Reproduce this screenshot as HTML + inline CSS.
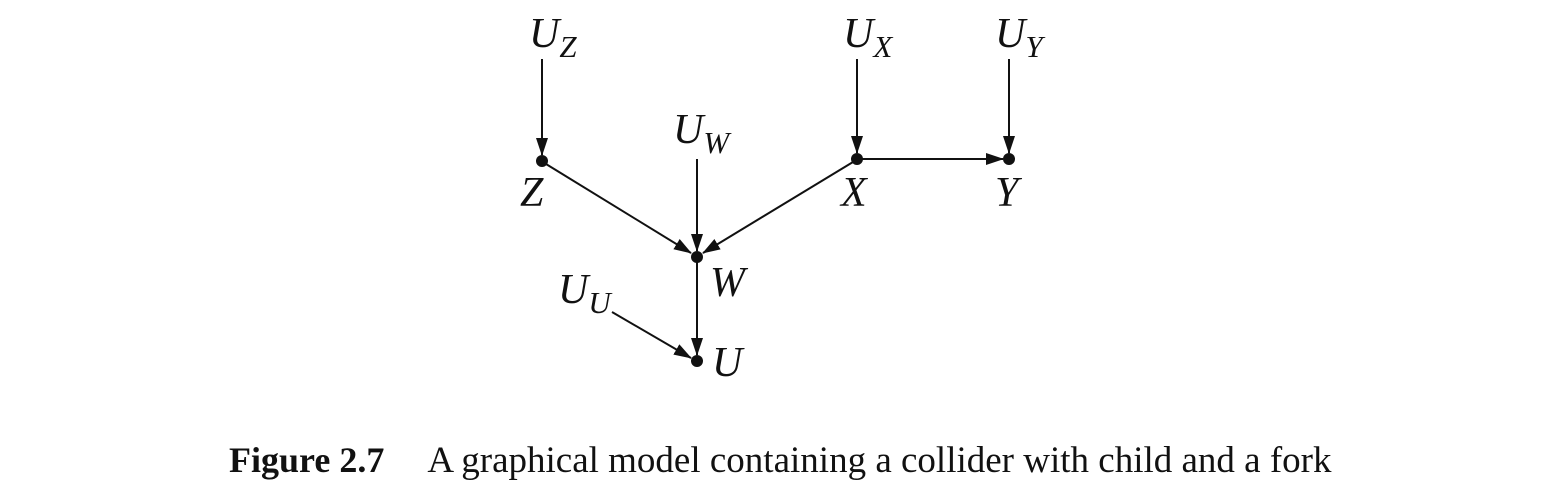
<!DOCTYPE html>
<html><head><meta charset="utf-8"><style>
html,body{margin:0;padding:0;background:#fff;}
svg{display:block;}
text{font-family:"Liberation Serif",serif;fill:#111;}
.lbl{font-style:italic;font-size:42px;}
.sub{font-style:italic;font-size:31px;}
</style></head><body>
<svg width="1565" height="486" viewBox="0 0 1565 486">
<defs><marker id="ah" markerWidth="18" markerHeight="12" refX="17" refY="6" orient="auto" markerUnits="userSpaceOnUse"><path d="M0,0 L18,6 L0,12 Z" fill="#111"/></marker></defs>
<g stroke="#111" stroke-width="2" fill="none">
<line x1="542" y1="59" x2="542" y2="155" marker-end="url(#ah)"/>
<line x1="697" y1="159" x2="697" y2="251" marker-end="url(#ah)"/>
<line x1="857" y1="59" x2="857" y2="153" marker-end="url(#ah)"/>
<line x1="1009" y1="59" x2="1009" y2="153" marker-end="url(#ah)"/>
<line x1="860" y1="159" x2="1003" y2="159" marker-end="url(#ah)"/>
<line x1="546" y1="164" x2="691" y2="253" marker-end="url(#ah)"/>
<line x1="853" y1="162" x2="703" y2="253" marker-end="url(#ah)"/>
<line x1="697" y1="262" x2="697" y2="355" marker-end="url(#ah)"/>
<line x1="612" y1="312" x2="691" y2="358" marker-end="url(#ah)"/>
</g>
<g fill="#111">
<circle cx="542" cy="161" r="6"/>
<circle cx="697" cy="257" r="6"/>
<circle cx="857" cy="159" r="6"/>
<circle cx="1009" cy="159" r="6"/>
<circle cx="697" cy="361" r="6"/>
</g>
<text class="lbl" x="529" y="47">U<tspan class="sub" dy="10">Z</tspan></text>
<text class="lbl" x="520" y="206">Z</text>
<text class="lbl" x="673" y="143">U<tspan class="sub" dy="10">W</tspan></text>
<text class="lbl" x="710" y="296">W</text>
<text class="lbl" x="843" y="47">U<tspan class="sub" dy="10">X</tspan></text>
<text class="lbl" x="841" y="206">X</text>
<text class="lbl" x="995" y="47">U<tspan class="sub" dy="10">Y</tspan></text>
<text class="lbl" x="995" y="206">Y</text>
<text class="lbl" x="558" y="303">U<tspan class="sub" dy="10">U</tspan></text>
<text class="lbl" x="712" y="376">U</text>
<text x="229" y="472" style="font-size:36px;"><tspan font-weight="bold">Figure 2.7</tspan><tspan dx="43" style="font-size:37px;">A graphical model containing a collider with child and a fork</tspan></text>
</svg>
</body></html>
